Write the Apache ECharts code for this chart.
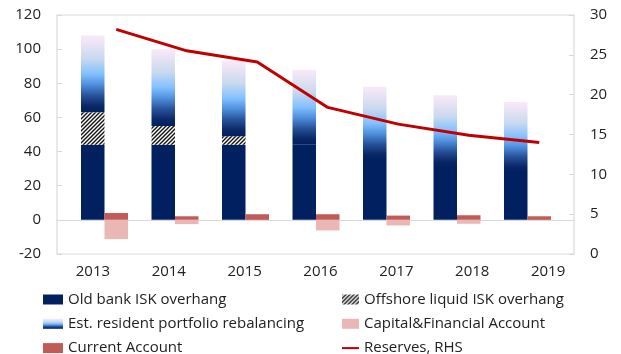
<!DOCTYPE html>
<html>
<head>
<meta charset="utf-8">
<script src="https://cdn.jsdelivr.net/npm/echarts@6/dist/echarts.min.js"></script>
<style>
  html, body { margin: 0; padding: 0; background: #fff; }
  #chart { width: 621px; height: 354px; }
</style>
</head>
<body>
<div id="chart"></div>
<script>
// Categories and values (bn ISK on the left axis, reserves on the right axis)
const years = ['2013', '2014', '2015', '2016', '2017', '2018', '2019'];
const oldBank = [44, 44, 44, 44, 35, 31, 28];
const offshore = [19, 11, 5, null, null, null, null];
const portfolio = [45, 45, 44.3, 44, 43, 42, 41];
const currentAccount = [4, 2.1, 3.3, 3.3, 2.5, 2.7, 2.1];
const capFin = [-11.3, -2.5, null, -6.2, -3.3, -2.3, null];
const reserves = [28.2, 25.5, 24.1, 18.4, 16.3, 14.9, 14.0];
const leftTicks = { min: -20, max: 120, interval: 20 };
const rightTicks = { min: 0, max: 30, interval: 5 };

const FONT = 'Open Sans';
const TEXT = '#222';
const FRAME = '#d9d9d9';

// Diagonal hatch fill
function hatchPattern() {
  const c = document.createElement('canvas');
  c.width = 4; c.height = 4;
  const g = c.getContext('2d');
  g.fillStyle = '#fff';
  g.fillRect(0, 0, 4, 4);
  g.strokeStyle = '#111';
  g.lineWidth = 1.4;
  g.beginPath();
  g.moveTo(-1, 5); g.lineTo(5, -1);
  g.moveTo(-1, 1); g.lineTo(1, -1);
  g.moveTo(3, 5); g.lineTo(5, 3);
  g.stroke();
  return { image: c, repeat: 'repeat' };
}

const portfolioGradient = new echarts.graphic.LinearGradient(0, 0, 0, 1, [
  { offset: 0, color: '#fbe9f8' },
  { offset: 0.3, color: '#c9d9ef' },
  { offset: 0.5, color: '#82c0ff' },
  { offset: 0.64, color: '#4f8fdc' },
  { offset: 0.78, color: '#275399' },
  { offset: 0.92, color: '#0a2766' },
  { offset: 1, color: '#002060' }
]);

const chart = echarts.init(document.getElementById('chart'), null, { renderer: 'canvas' });

const plotTop = 15, plotHeight = 239;
const legendText = { color: TEXT, fontSize: 15, fontFamily: FONT, lineHeight: 14 };

chart.setOption({
  animation: false,
  textStyle: { fontFamily: FONT },
  grid: [
    // frame + value axes
    { left: 57, top: plotTop, width: 517, height: plotHeight, show: true, borderColor: FRAME, borderWidth: 1.2 },
    // data area
    { left: 81, top: plotTop, width: 493.5, height: plotHeight },
    // year labels
    { left: 55, top: plotTop, width: 531, height: plotHeight }
  ],
  xAxis: [
    { gridIndex: 0, type: 'category', data: years, axisLabel: { show: false }, axisTick: { show: false },
      axisLine: { show: true, onZero: true, lineStyle: { color: FRAME, width: 1.2 } } },
    { gridIndex: 1, type: 'category', data: years, show: false },
    { gridIndex: 2, type: 'category', data: years, axisLine: { show: false }, axisTick: { show: false },
      axisLabel: { color: TEXT, fontSize: 15, fontFamily: FONT, margin: 10 } }
  ],
  yAxis: [
    { gridIndex: 0, type: 'value', position: 'left', min: leftTicks.min, max: leftTicks.max, interval: leftTicks.interval,
      axisLine: { show: false }, splitLine: { show: false },
      axisTick: { show: true, inside: true, length: 5, lineStyle: { color: FRAME } },
      axisLabel: { color: TEXT, fontSize: 15, fontFamily: FONT, margin: 16 } },
    { gridIndex: 0, type: 'value', position: 'right', min: rightTicks.min, max: rightTicks.max, interval: rightTicks.interval,
      axisLine: { show: false }, splitLine: { show: false },
      axisTick: { show: true, inside: true, length: 5, lineStyle: { color: FRAME } },
      axisLabel: { color: TEXT, fontSize: 15, fontFamily: FONT, margin: 16 } },
    { gridIndex: 1, type: 'value', min: leftTicks.min, max: leftTicks.max, interval: leftTicks.interval, show: false },
    { gridIndex: 1, type: 'value', min: rightTicks.min, max: rightTicks.max, interval: rightTicks.interval, show: false },
    { gridIndex: 2, type: 'value', show: false }
  ],
  legend: [
    { orient: 'vertical', left: 43, top: 292, height: 90, width: 290, padding: 0, itemWidth: 20, itemHeight: 10, itemGap: 9.3,
      textStyle: legendText,
      data: [
        { name: 'Old bank ISK overhang', icon: 'rect' },
        { name: 'Est. resident portfolio rebalancing', icon: 'rect' },
        { name: 'Current Account', icon: 'rect' }
      ] },
    { orient: 'vertical', left: 341, top: 292, height: 90, width: 270, padding: 0, itemWidth: 17, itemHeight: 10, itemGap: 9.3,
      textStyle: legendText,
      data: [
        { name: 'Offshore liquid ISK overhang', icon: 'rect' },
        { name: 'Capital&Financial Account', icon: 'rect' },
        { name: 'Reserves, RHS', itemStyle: { opacity: 0 } }
      ] }
  ],
  series: [
    { name: 'Old bank ISK overhang', type: 'bar', xAxisIndex: 1, yAxisIndex: 2, stack: 'holdings',
      barGap: '0%', barCategoryGap: '0%', data: oldBank, itemStyle: { color: '#002060' } },
    { name: 'Offshore liquid ISK overhang', type: 'bar', xAxisIndex: 1, yAxisIndex: 2, stack: 'holdings',
      data: offshore, itemStyle: { color: hatchPattern() } },
    { name: 'Est. resident portfolio rebalancing', type: 'bar', xAxisIndex: 1, yAxisIndex: 2, stack: 'holdings',
      data: portfolio, itemStyle: { color: portfolioGradient } },
    { name: 'Current Account', type: 'bar', xAxisIndex: 1, yAxisIndex: 2, stack: 'balance',
      data: currentAccount, itemStyle: { color: '#c25b58' } },
    { name: 'Capital&Financial Account', type: 'bar', xAxisIndex: 1, yAxisIndex: 2, stack: 'balance',
      data: capFin, itemStyle: { color: '#e8b7b6' } },
    // empty third slot of each cluster
    { name: 'spacer', type: 'bar', xAxisIndex: 1, yAxisIndex: 2, stack: 'spacer',
      data: years.map(() => null), silent: true },
    { name: 'Reserves, RHS', type: 'line', xAxisIndex: 1, yAxisIndex: 3, data: reserves,
      symbol: 'none', lineStyle: { color: '#c00000', width: 3 }, itemStyle: { color: '#c00000' }, z: 5 }
  ]
});
</script>
</body>
</html>
